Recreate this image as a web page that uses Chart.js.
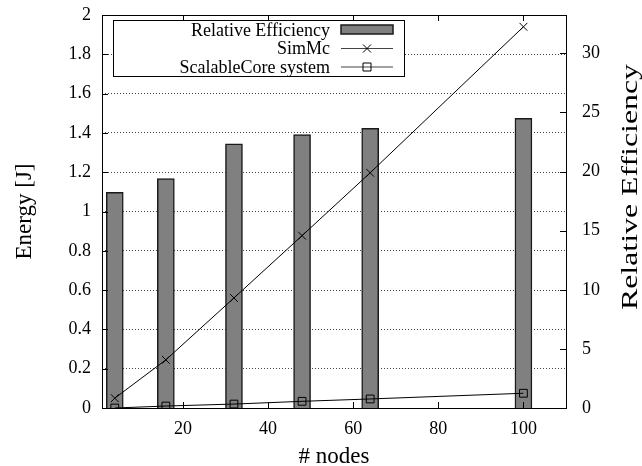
<!DOCTYPE html>
<html>
<head>
<meta charset="utf-8">
<script src="https://cdn.jsdelivr.net/npm/chart.js@4"></script>
<style>
html,body{margin:0;padding:0;background:#fff;}
canvas{display:block;}
</style>
</head>
<body>
<canvas id="c" width="642" height="466"></canvas>
<script>
// ---- data ----
const nodes = [4, 16, 32, 48, 64, 100];
const relativeEfficiency = [18.25, 19.4, 22.35, 23.12, 23.66, 24.5];
const simMc = [0.05, 0.245, 0.56, 0.877, 1.197, 1.94];
const scalableCore = [0.0, 0.01, 0.02, 0.034, 0.046, 0.075];
const xTickValues = [20, 40, 60, 80, 100];
const yTickValues = [0, 0.2, 0.4, 0.6, 0.8, 1, 1.2, 1.4, 1.6, 1.8, 2];
const yTickLabels = ['0', '0.2', '0.4', '0.6', '0.8', '1', '1.2', '1.4', '1.6', '1.8', '2'];
const y2TickValues = [0, 5, 10, 15, 20, 25, 30];
const seriesLabels = ['Relative Efficiency', 'SimMc', 'ScalableCore system'];
const xTitle = '# nodes';
const yTitle = 'Energy [J]';
const y2Title = 'Relative Efficiency';

const SERIF = '"Liberation Serif", "DejaVu Serif", serif';

function pts(xs, ys) { return xs.map((x, i) => ({x: x, y: ys[i]})); }

const framePlugin = {
  id: 'frame',
  afterDatasetsDraw(chart) {
    const ctx = chart.ctx, a = chart.chartArea;
    const sx = chart.scales.x, sy = chart.scales.y, sy2 = chart.scales.y2;
    ctx.save();
    ctx.strokeStyle = '#000';
    ctx.lineWidth = 1;
    ctx.setLineDash([]);
    ctx.beginPath();
    xTickValues.forEach(v => {
      const px = Math.round(sx.getPixelForValue(v)) + 0.5;
      ctx.moveTo(px, a.bottom); ctx.lineTo(px, a.bottom - 6);
      ctx.moveTo(px, a.top); ctx.lineTo(px, a.top + 6);
    });
    yTickValues.forEach(v => {
      const py = Math.round(sy.getPixelForValue(v)) + 0.5;
      ctx.moveTo(a.left, py); ctx.lineTo(a.left + 6, py);
    });
    y2TickValues.forEach(v => {
      const py = Math.round(sy2.getPixelForValue(v)) + 0.5;
      ctx.moveTo(a.right, py); ctx.lineTo(a.right - 6, py);
    });
    ctx.stroke();
    ctx.strokeRect(Math.round(a.left) + 0.5, Math.round(a.top) + 0.5,
                   Math.round(a.right - a.left), Math.round(a.bottom - a.top));
    ctx.restore();
  },
  afterDraw(chart) {
    const ctx = chart.ctx;
    const ds = chart.data.datasets;
    const bx = 113.5, by = 20.5, bw = 291, bh = 56;
    ctx.save();
    ctx.fillStyle = '#fff';
    ctx.fillRect(bx, by, bw, bh);
    ctx.strokeStyle = '#000';
    ctx.lineWidth = 1;
    ctx.strokeRect(bx, by, bw, bh);
    ctx.font = '18px ' + SERIF;
    ctx.textAlign = 'right';
    ctx.textBaseline = 'middle';
    const rows = [30, 48.5, 67];
    const sx0 = 341, sx1 = 393;
    ds.forEach((d, i) => {
      const y = rows[i];
      ctx.fillStyle = '#000';
      ctx.fillText(d.label, 330, y + 1);
      if (d.type === 'bar') {
        ctx.fillStyle = d.backgroundColor;
        ctx.fillRect(sx0, y - 5, sx1 - sx0, 9);
        ctx.strokeStyle = d.borderColor;
        ctx.lineWidth = 1.5;
        ctx.strokeRect(sx0, y - 5, sx1 - sx0, 9);
      } else {
        ctx.strokeStyle = '#444';
        ctx.lineWidth = 1.2;
        ctx.beginPath();
        ctx.moveTo(sx0, y); ctx.lineTo(sx1, y);
        ctx.stroke();
        const cx = (sx0 + sx1) / 2;
        ctx.strokeStyle = '#000';
        ctx.lineWidth = 1;
        ctx.beginPath();
        if (d.pointStyle === 'crossRot') {
          ctx.moveTo(cx - 4, y - 4); ctx.lineTo(cx + 4, y + 4);
          ctx.moveTo(cx - 4, y + 4); ctx.lineTo(cx + 4, y - 4);
        } else {
          ctx.rect(cx - 4, y - 4, 8, 8);
        }
        ctx.stroke();
      }
    });
    // right axis title (reads bottom to top)
    ctx.translate(631, 187);
    ctx.rotate(-Math.PI / 2);
    ctx.font = '24px ' + SERIF;
    const w = ctx.measureText(y2Title).width;
    ctx.scale(246 / w, 1);
    ctx.textAlign = 'center';
    ctx.textBaseline = 'middle';
    ctx.fillStyle = '#000';
    ctx.fillText(y2Title, 0, 0);
    ctx.restore();
  }
};

function fixVertical(width) {
  return s => { s.width = width; s.paddingTop = 0; s.paddingBottom = 0; };
}

new Chart(document.getElementById('c'), {
  type: 'bar',
  data: {
    datasets: [
      {
        type: 'bar',
        label: seriesLabels[0],
        data: pts(nodes, relativeEfficiency),
        yAxisID: 'y2',
        backgroundColor: '#808080',
        borderColor: '#1a1a1a',
        borderWidth: 1.5,
        barThickness: 17,
        order: 3
      },
      {
        type: 'line',
        label: seriesLabels[1],
        data: pts(nodes, simMc),
        yAxisID: 'y',
        borderColor: '#000',
        borderWidth: 1,
        pointStyle: 'crossRot',
        pointRadius: 5.5,
        pointBorderColor: '#000',
        pointBorderWidth: 1,
        pointBackgroundColor: 'rgba(0,0,0,0)',
        tension: 0,
        fill: false,
        order: 1
      },
      {
        type: 'line',
        label: seriesLabels[2],
        data: pts(nodes, scalableCore),
        yAxisID: 'y',
        borderColor: '#000',
        borderWidth: 1,
        pointStyle: 'rect',
        pointRadius: 5.5,
        pointBorderColor: '#000',
        pointBorderWidth: 1,
        pointBackgroundColor: 'rgba(0,0,0,0)',
        tension: 0,
        fill: false,
        order: 2
      }
    ]
  },
  options: {
    responsive: false,
    animation: false,
    devicePixelRatio: 1,
    layout: { padding: { top: 15, left: 0, right: 0, bottom: 0 } },
    plugins: { legend: { display: false }, tooltip: { enabled: false } },
    scales: {
      x: {
        type: 'linear',
        position: 'bottom',
        min: 1, max: 110,
        offset: false,
        grid: { display: false, offset: false, drawTicks: false },
        border: { display: false },
        afterBuildTicks: s => { s.ticks = xTickValues.map(v => ({value: v})); },
        afterFit: s => { s.height = 58; },
        ticks: { font: { family: SERIF, size: 18 }, color: '#000', padding: 10, maxRotation: 0 },
        title: { display: true, text: xTitle, font: { family: SERIF, size: 23, lineHeight: 0.8 }, color: '#000', padding: { top: 0, bottom: 0 } }
      },
      y: {
        type: 'linear',
        position: 'left',
        min: 0, max: 2,
        afterBuildTicks: s => { s.ticks = yTickValues.map(v => ({value: v})); },
        afterFit: fixVertical(102),
        grid: {
          drawTicks: false,
          lineWidth: 1,
          color: c => (c.tick && (c.tick.value === 0 || c.tick.value === 2)) ? 'rgba(0,0,0,0)' : '#444'
        },
        border: { display: false, dash: [1, 2] },
        ticks: {
          font: { family: SERIF, size: 18 }, color: '#000', padding: 11,
          callback: (v, i) => yTickLabels[i]
        },
        title: { display: true, text: yTitle, font: { family: SERIF, size: 23 }, color: '#000', padding: { top: 11, bottom: 0 } }
      },
      y2: {
        type: 'linear',
        position: 'right',
        min: 0, max: 33.24,
        afterBuildTicks: s => { s.ticks = y2TickValues.map(v => ({value: v})); },
        afterFit: fixVertical(76),
        grid: { display: false, drawTicks: false },
        border: { display: false },
        ticks: { font: { family: SERIF, size: 18 }, color: '#000', padding: 16 },
        title: { display: false }
      }
    }
  },
  plugins: [framePlugin]
});
</script>
</body>
</html>
